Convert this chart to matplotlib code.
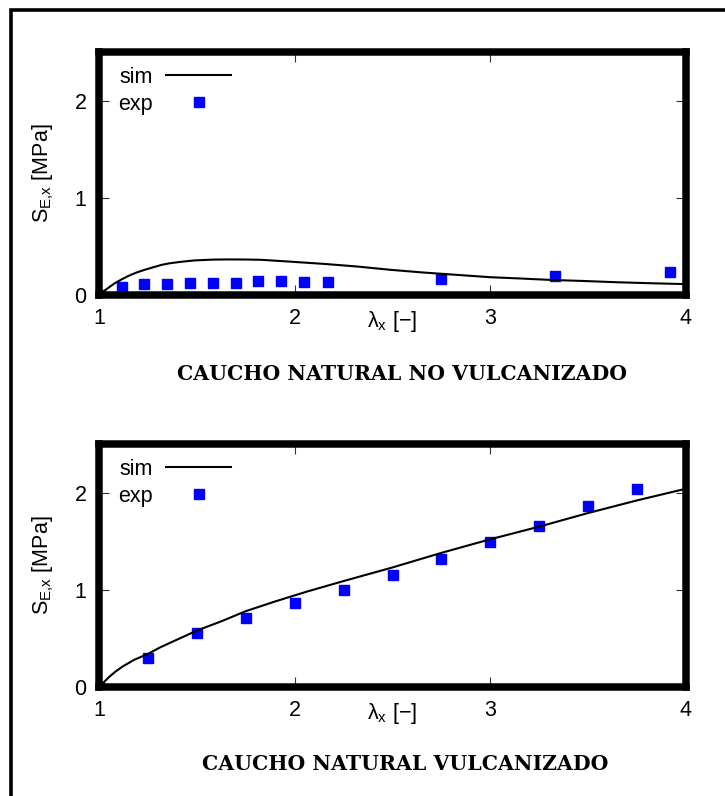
import matplotlib
matplotlib.use("Agg")
import matplotlib.pyplot as plt
from matplotlib.patches import Rectangle

plt.rcParams['font.family'] = ['Liberation Sans', 'DejaVu Sans']
plt.rcParams['mathtext.default'] = 'regular'

# --- caucho natural no vulcanizado ---
nv_exp_x = [1.0, 1.116, 1.23, 1.346, 1.465, 1.584, 1.70, 1.814, 1.93, 2.05, 2.168, 2.748, 3.33, 3.918]
nv_exp_y = [0.0, 0.08, 0.11, 0.11, 0.127, 0.127, 0.127, 0.145, 0.145, 0.138, 0.138, 0.165, 0.196, 0.235]
nv_sim_x = [1.0, 1.02, 1.04, 1.06, 1.08, 1.115, 1.15, 1.19, 1.235, 1.28, 1.32, 1.36, 1.405, 1.45,
            1.49, 1.58, 1.66, 1.75, 1.83, 1.97, 2.15, 2.32, 2.49, 2.66, 2.83, 3.0, 3.14, 3.31,
            3.48, 3.65, 3.82, 4.0]
nv_sim_y = [0.0, 0.032, 0.062, 0.092, 0.12, 0.16, 0.196, 0.23, 0.26, 0.287, 0.31, 0.326, 0.338,
            0.348, 0.356, 0.364, 0.366, 0.365, 0.362, 0.344, 0.32, 0.293, 0.259, 0.231, 0.207,
            0.183, 0.171, 0.155, 0.144, 0.131, 0.121, 0.112]

# --- caucho natural vulcanizado ---
v_exp_x = [1.0, 1.25, 1.5, 1.75, 2.0, 2.25, 2.5, 2.75, 3.0, 3.25, 3.5, 3.75]
v_exp_y = [0.0, 0.30, 0.56, 0.71, 0.86, 1.0, 1.155, 1.32, 1.495, 1.66, 1.86, 2.04]
v_sim_x = [1.0, 1.025, 1.05, 1.085, 1.12, 1.18, 1.25, 1.31, 1.38, 1.44, 1.5, 1.63, 1.75, 1.9,
           2.06, 2.25, 2.5, 2.75, 3.0, 3.25, 3.5, 3.75, 4.0]
v_sim_y = [0.0, 0.05, 0.1, 0.16, 0.21, 0.28, 0.34, 0.405, 0.47, 0.525, 0.58, 0.68, 0.78, 0.88,
           0.98, 1.09, 1.23, 1.38, 1.52, 1.65, 1.79, 1.92, 2.04]

x_ticks = [1, 2, 3, 4]
y_ticks = [0, 1, 2]
titles = ["CAUCHO NATURAL NO VULCANIZADO", "CAUCHO NATURAL VULCANIZADO"]

W, H = 725, 796
fig = plt.figure(figsize=(W / 100, H / 100), dpi=100)
fig.patch.set_facecolor('white')

# outer frame (right/bottom edges fall outside the picture)
fig.patches.append(Rectangle((10.5 / W, -0.1), 1.2, 1.1 - 9.5 / H, transform=fig.transFigure,
                             fill=False, lw=2.6, ec='black'))

axes_px = [(52, 295), (444, 687)]  # top, bottom (pixels) of each plot area
left_px, right_px = 99, 686
data = [(nv_sim_x, nv_sim_y, nv_exp_x, nv_exp_y), (v_sim_x, v_sim_y, v_exp_x, v_exp_y)]
caption_y = [374, 764]
caption_x = [402, 405]

for i, (top, bot) in enumerate(axes_px):
    ax = fig.add_axes([left_px / W, 1 - bot / H, (right_px - left_px) / W, (bot - top) / H])
    sx, sy, ex, ey = data[i]
    ax.plot(sx, sy, color='black', lw=1.5, label='sim', zorder=3)
    ax.plot(ex, ey, ls='none', marker='s', ms=7, color='#0000ff', label='exp', zorder=2)
    ax.set_xlim(1, 4)
    ax.set_ylim(0, 2.5)
    ax.set_xticks(x_ticks)
    ax.set_yticks(y_ticks)
    ax.tick_params(direction='in', top=True, right=True, length=7, width=0.8,
                   labelsize=15.5, pad=9, color='#333333')
    for sp in ax.spines.values():
        sp.set_linewidth(5.4)
        sp.set_capstyle('projecting')
    ax.set_xlabel('λ$_{x}$ [−]', fontsize=15.5)
    ax.xaxis.set_label_coords(0.5, -0.057)
    ax.xaxis.label.set_va('top')
    ax.set_ylabel('S$_{E{,}x}$ [MPa]', fontsize=15.5)
    ax.yaxis.set_label_coords(-0.074, 0.5)
    ax.legend(loc='upper left', bbox_to_anchor=(0.032, 0.94), frameon=False, markerfirst=False,
              fontsize=15.5, handlelength=3.0, handletextpad=0.65, labelspacing=0.28,
              borderpad=0, borderaxespad=0, numpoints=1)
    fig.text(caption_x[i] / W, 1 - caption_y[i] / H, titles[i], ha='center', va='center',
             fontsize=14.7, fontweight='bold', family='DejaVu Serif')

fig.savefig('out.png', dpi=100)
